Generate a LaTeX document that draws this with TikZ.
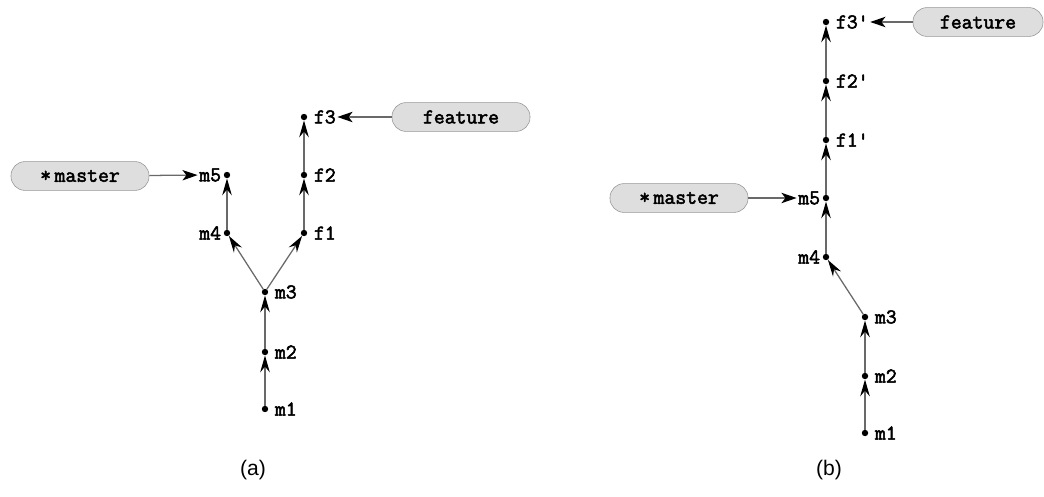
\documentclass[tikz,border=0pt]{standalone}
\usepackage{fontspec}
\setmainfont{Liberation Sans}
\setmonofont{Latin Modern Mono}[AutoFakeBold=2.5]
\usepackage{tikz}
\usetikzlibrary{arrows.meta, positioning}
\definecolor{linegray}{RGB}{105, 105, 105}
\definecolor{boxfill}{RGB}{222, 222, 222}
\definecolor{boxline}{RGB}{150, 150, 150}

\tikzset{
    commit/.style={circle, fill=black, inner sep=0pt, minimum size=0.16cm},
    lbl/.style={inner sep=1pt, font=\ttfamily\bfseries\fontsize{15}{17}\selectfont},
    parent/.style={draw=linegray, line width=0.9pt, -{Stealth[black, length=0.42cm, width=0.24cm, inset=0.14cm]}},
    branch/.style={draw=boxline, fill=boxfill, rounded corners=0.35cm, minimum width=3.45cm, minimum height=0.72cm, font=\ttfamily\bfseries\fontsize{15}{17}\selectfont},
    ptr/.style={draw=linegray, line width=0.9pt, -{Stealth[black, length=0.38cm, width=0.26cm, inset=0.1cm]}},
    caption/.style={font=\fontsize{15}{18}\selectfont}
}

\begin{document}
\begin{tikzpicture}[x=0.025cm, y=-0.025cm]
    \useasboundingbox (0,0) rectangle (1044,497);

    % --- (a) before rebase ---
    \node[commit] (m1) at (265,409) {};
    \node[commit] (m2) at (265,352) {};
    \node[commit] (m3) at (265,292) {};
    \node[commit] (m4) at (227,233) {};
    \node[commit] (m5) at (227,175) {};
    \node[commit] (f1) at (304,233) {};
    \node[commit] (f2) at (304,175) {};
    \node[commit] (f3) at (304,117) {};

    \node[lbl, right=0.12cm of m1] {m1};
    \node[lbl, right=0.12cm of m2] {m2};
    \node[lbl, right=0.12cm of m3] {m3};
    \node[lbl, left=0.02cm of m4] {m4};
    \node[lbl, left=0.02cm of m5] (m5t) {m5};
    \node[lbl, right=0.12cm of f1] {f1};
    \node[lbl, right=0.12cm of f2] {f2};
    \node[lbl, right=0.12cm of f3] (f3t) {f3};

    \draw[parent] (m1) -- (m2);
    \draw[parent] (m2) -- (m3);
    \draw[parent] (m3) -- (m4);
    \draw[parent] (m4) -- (m5);
    \draw[parent] (m3) -- (f1);
    \draw[parent] (f1) -- (f2);
    \draw[parent] (f2) -- (f3);

    \node[branch] (master) at (80,176) {*\,master};
    \node[branch] (feature) at (461,117) {feature};
    \draw[ptr] (master) -- (m5t);
    \draw[ptr] (feature) -- (f3t);

    \node[caption] (capa) at (253,470) {(a)};

    % --- (b) after rebase ---
    \node[commit] (rm1) at (865,433) {};
    \node[commit] (rm2) at (865,376) {};
    \node[commit] (rm3) at (865,317) {};
    \node[commit] (rm4) at (826,257) {};
    \node[commit] (rm5) at (826,198) {};
    \node[commit] (rf1) at (826,140) {};
    \node[commit] (rf2) at (826,81) {};
    \node[commit] (rf3) at (826,22) {};

    \node[lbl, right=0.12cm of rm1] {m1};
    \node[lbl, right=0.12cm of rm2] {m2};
    \node[lbl, right=0.12cm of rm3] {m3};
    \node[lbl, left=0.02cm of rm4] {m4};
    \node[lbl, left=0.02cm of rm5] (rm5t) {m5};
    \node[lbl, right=0.12cm of rf1] {f1'};
    \node[lbl, right=0.12cm of rf2] {f2'};
    \node[lbl, right=0.12cm of rf3] (rf3t) {f3'};

    \draw[parent] (rm1) -- (rm2);
    \draw[parent] (rm2) -- (rm3);
    \draw[parent] (rm3) -- (rm4);
    \draw[parent] (rm4) -- (rm5);
    \draw[parent] (rm5) -- (rf1);
    \draw[parent] (rf1) -- (rf2);
    \draw[parent] (rf2) -- (rf3);

    \node[branch] (rmaster) at (679,198) {*\,master};
    \node[branch, minimum width=3.25cm] (rfeature) at (978,22) {feature};
    \draw[ptr] (rmaster) -- (rm5t);
    \draw[ptr] (rfeature) -- (rf3t);

    \node[caption] (capb) at (829,470) {(b)};
\end{tikzpicture}
\end{document}
